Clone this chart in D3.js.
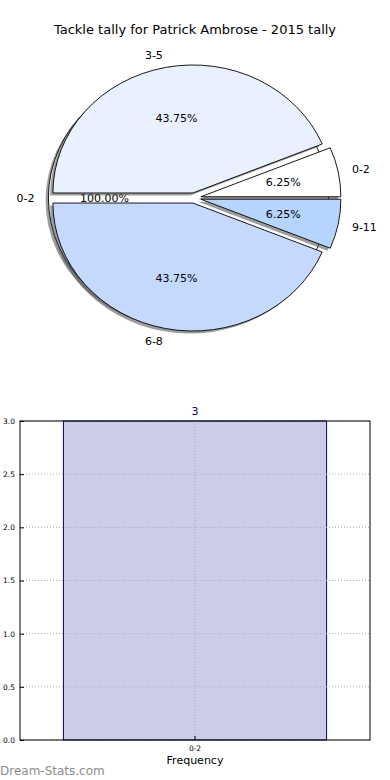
<!DOCTYPE html>
<html>
<head>
<meta charset="utf-8">
<script src="https://cdn.jsdelivr.net/npm/d3@7"></script>
<style>
  body { margin: 0; background: #fff; }
  svg { display: block; font-family: "DejaVu Sans", sans-serif; }
</style>
</head>
<body>
<div id="chart"></div>
<script>
// pie data
const pieCategories = ["0-2", "3-5", "6-8", "9-11"];
const pieValues = [1, 7, 7, 1];
const pieExplode = [0.05, 0.04, 0.04, 0.05];
const pieColors = ["#ffffff", "#eaf1fe", "#c5d9ff", "#b5d5ff"];

// background (single slice) pie
const bgCategories = ["0-2"];
const bgValues = [3];

// bar data
const barCategories = ["0-2"];
const barValues = [3];
const yTicks = [0, 0.5, 1, 1.5, 2, 2.5, 3];

const W = 390, H = 780;
const svg = d3.select("#chart").append("svg")
    .attr("width", W)
    .attr("height", H);

svg.append("text")
    .attr("x", 195).attr("y", 34)
    .attr("text-anchor", "middle")
    .attr("font-size", 13)
    .text("Tackle tally for Patrick Ambrose - 2015 tally");

// ---- pie ----
const cx = 194, cy = 198, rx = 140, ry = 128;
const sy = ry / rx;

// matplotlib style: start at east, counter clockwise
const pie = d3.pie().sort(null).value(d => d)
    .startAngle(Math.PI / 2)
    .endAngle(Math.PI / 2 - 2 * Math.PI);
const arc = d3.arc().innerRadius(0).outerRadius(rx);

const pieG = svg.append("g");

function drawPie(values, labels, explode, colors) {
    const arcs = pie(values);
    const total = d3.sum(values);
    const out = [];
    arcs.forEach((a, i) => {
        const mid = (a.startAngle + a.endAngle) / 2;
        const ux = Math.sin(mid), uy = -Math.cos(mid);
        const ox = cx + explode[i] * rx * ux;
        const oy = cy + explode[i] * ry * uy;
        out.push({ a, i, mid, ux, uy, ox, oy, total });
    });
    // shadows
    out.forEach(d => {
        pieG.append("path")
            .attr("d", arc(d.a))
            .attr("transform", `translate(${d.ox - 2.8},${d.oy + 2.5}) scale(1,${sy})`)
            .attr("fill", "#4d4d4d")
            .attr("opacity", 0.55);
    });
    out.forEach(d => {
        pieG.append("path")
            .attr("d", arc(d.a))
            .attr("transform", `translate(${d.ox},${d.oy}) scale(1,${sy})`)
            .attr("fill", colors[d.i])
            .attr("stroke", "#000")
            .attr("stroke-width", 0.9)
            .attr("stroke-linejoin", "miter")
            .attr("vector-effect", "non-scaling-stroke");
    });
    out.forEach(d => {
        const lx = d.ox + 1.1 * rx * d.ux;
        const ly = d.oy + 1.1 * ry * d.uy;
        pieG.append("text")
            .attr("x", lx).attr("y", ly)
            .attr("dy", "0.35em")
            .attr("text-anchor", d.ux > 1e-9 ? "start" : "end")
            .attr("font-size", 11)
            .text(labels[d.i]);
        const px = d.ox + 0.6 * rx * d.ux;
        const py = d.oy + 0.6 * ry * d.uy;
        pieG.append("text")
            .attr("x", px).attr("y", py)
            .attr("dy", "0.35em")
            .attr("text-anchor", "middle")
            .attr("font-size", 11)
            .text((values[d.i] / d.total * 100).toFixed(2) + "%");
    });
}

drawPie(bgValues, bgCategories, [0.04], ["#ffffff"]);
drawPie(pieValues, pieCategories, pieExplode, pieColors);

// ---- bar chart ----
const plotLeft = 20, plotRight = 370, plotTop = 421, plotBottom = 740;

const x = d3.scaleBand()
    .domain(barCategories)
    .range([plotLeft, plotRight])
    .paddingInner(0)
    .paddingOuter(0.165);

const y = d3.scaleLinear()
    .domain([0, 3])
    .range([plotBottom, plotTop]);

const barG = svg.append("g");

barG.selectAll("rect.bar")
    .data(barValues)
    .join("rect")
    .attr("class", "bar")
    .attr("x", (d, i) => x(barCategories[i]))
    .attr("y", d => y(d))
    .attr("width", x.bandwidth())
    .attr("height", d => y(0) - y(d))
    .attr("fill", "#cccce6")
    .attr("stroke", "#00008b")
    .attr("stroke-width", 1);

// grid
barG.selectAll("line.hgrid")
    .data(yTicks)
    .join("line")
    .attr("class", "hgrid")
    .attr("x1", plotLeft).attr("x2", plotRight)
    .attr("y1", d => y(d)).attr("y2", d => y(d))
    .attr("stroke", "#aaa")
    .attr("stroke-dasharray", "1,2");

barG.selectAll("line.vgrid")
    .data(barCategories)
    .join("line")
    .attr("class", "vgrid")
    .attr("x1", d => x(d) + x.bandwidth() / 2)
    .attr("x2", d => x(d) + x.bandwidth() / 2)
    .attr("y1", plotTop).attr("y2", plotBottom)
    .attr("stroke", "#aaa")
    .attr("stroke-dasharray", "1,2");

// frame
barG.append("rect")
    .attr("x", plotLeft).attr("y", plotTop)
    .attr("width", plotRight - plotLeft).attr("height", plotBottom - plotTop)
    .attr("fill", "none")
    .attr("stroke", "#000")
    .attr("stroke-width", 1);

const yAxis = d3.axisLeft(y)
    .tickValues(yTicks)
    .tickFormat(d3.format(".1f"))
    .tickSizeInner(-4)
    .tickSizeOuter(0)
    .tickPadding(5);

barG.append("g")
    .attr("transform", `translate(${plotLeft},0)`)
    .call(yAxis)
    .call(g => g.select(".domain").remove())
    .call(g => g.selectAll("text").attr("font-size", 7.5).attr("font-family", "DejaVu Sans").attr("fill", "#000"));

const xAxis = d3.axisBottom(x)
    .tickSizeInner(-4)
    .tickSizeOuter(0)
    .tickPadding(6);

barG.append("g")
    .attr("transform", `translate(0,${plotBottom})`)
    .call(xAxis)
    .call(g => g.select(".domain").remove())
    .call(g => g.selectAll("text").attr("font-size", 7.5).attr("font-family", "DejaVu Sans").attr("fill", "#000"));

// value labels
barG.selectAll("text.val")
    .data(barValues)
    .join("text")
    .attr("class", "val")
    .attr("x", (d, i) => x(barCategories[i]) + x.bandwidth() / 2)
    .attr("y", d => y(d) - 6)
    .attr("text-anchor", "middle")
    .attr("font-size", 11)
    .attr("fill", "#00008b")
    .text(d => d);

svg.append("text")
    .attr("x", 195).attr("y", 764)
    .attr("text-anchor", "middle")
    .attr("font-size", 11)
    .text("Frequency");

svg.append("text")
    .attr("x", 0).attr("y", 775)
    .attr("font-size", 12)
    .attr("fill", "#8c8c8c")
    .text("Dream-Stats.com");
</script>
</body>
</html>
